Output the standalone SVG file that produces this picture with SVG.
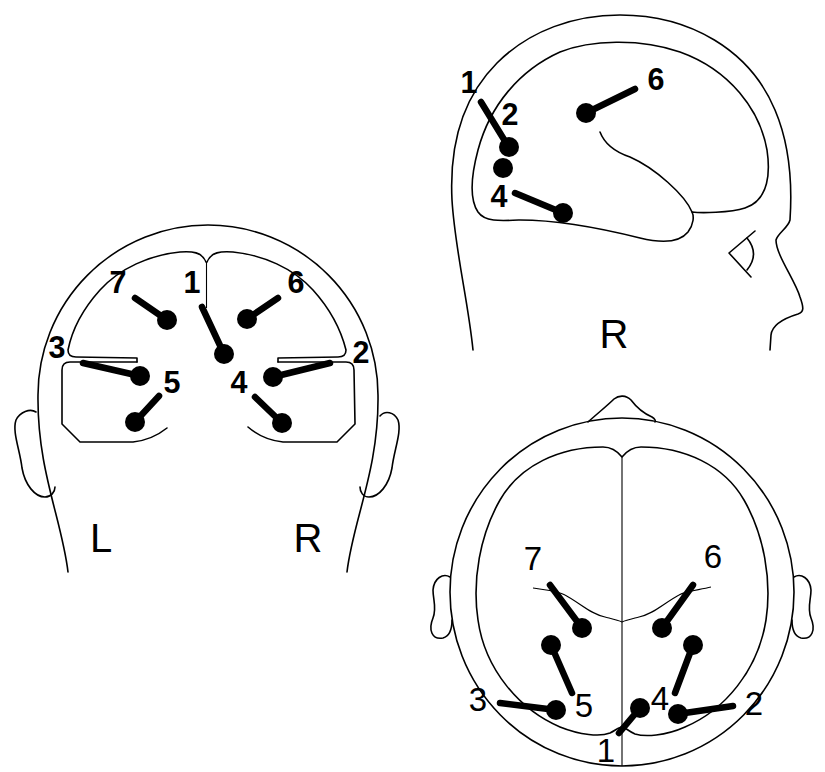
<svg xmlns="http://www.w3.org/2000/svg" width="825" height="772" viewBox="0 0 825 772">
<style>
.o{fill:none;stroke:#000;stroke-width:1.6;stroke-linejoin:round;stroke-linecap:round}
.t{fill:none;stroke:#000;stroke-width:1.1}
.s{stroke:#000;stroke-width:6.5;stroke-linecap:round}
.d{fill:#000}
.n{font-family:"Liberation Sans",Arial,sans-serif;font-size:30.5px;font-weight:bold;text-anchor:middle;fill:#000}
.m{font-family:"Liberation Sans",Arial,sans-serif;font-size:33px;text-anchor:middle;fill:#000}
.b{font-family:"Liberation Sans",Arial,sans-serif;font-size:40px;text-anchor:middle;fill:#000}
</style>
<rect width="825" height="772" fill="#fff"/>

<g id="back-view">
  <path class="o" d="M68 572 C62 520 37 470 38 395 A170 170 0 0 1 378 395 C379 470 353 520 347 572"/>
  <path class="o" d="M36 412 C30 408 20 412 16 420 C12 432 20 450 22 468 C25 485 35 497 45 497 C51 497 55 492 55 487"/>
  <path class="o" d="M380 416 C385 410 394 412 398 420 C402 432 394 450 392 468 C389 485 379 497 369 497 C363 497 360 492 360 487"/>
  <path class="o" d="M206 262 C202 252 192 251 180 252 C150 255 120 268 100 290 C82 310 72 330 68 350 Q68 357 76 357 L137 358 L137 362"/>
  <path class="o" d="M137 362 L70 362 Q62 362 62 370 L62 424 L80 442 L133 442 Q152 440 167 428"/>
  <path class="o" d="M207 262 C211 252 221 251 233 252 C263 255 293 268 313 290 C331 310 341 330 346 350 Q346 357 338 357 L278 358 L278 362"/>
  <path class="o" d="M278 362 L346 362 Q354 362 354 370 L355 424 L337 442 L283 442 Q263 440 248 427"/>
  <path class="t" d="M206.5 262 L206.5 308"/>
  <g id="back-dipoles">
    <g id="back-d7"><line class="s" x1="135" y1="298" x2="167" y2="320"/><circle class="d" cx="167" cy="320" r="10"/></g>
    <g id="back-d1"><line class="s" x1="202" y1="307" x2="224" y2="354"/><circle class="d" cx="224" cy="354" r="10"/></g>
    <g id="back-d6"><line class="s" x1="278" y1="298" x2="247" y2="319"/><circle class="d" cx="247" cy="319" r="10"/></g>
    <g id="back-d3"><line class="s" x1="83" y1="363" x2="140" y2="376"/><circle class="d" cx="140" cy="376" r="10"/></g>
    <g id="back-d5"><line class="s" x1="159" y1="396" x2="135" y2="422"/><circle class="d" cx="135" cy="422" r="10"/></g>
    <g id="back-d2"><line class="s" x1="330" y1="363" x2="273" y2="377"/><circle class="d" cx="273" cy="377" r="10"/></g>
    <g id="back-d4"><line class="s" x1="255" y1="397" x2="282" y2="423"/><circle class="d" cx="282" cy="423" r="10"/></g>
  </g>
  <g id="back-labels">
    <text class="n" x="118" y="293">7</text>
    <text class="n" x="192" y="293">1</text>
    <text class="n" x="296" y="293">6</text>
    <text class="n" x="57" y="358">3</text>
    <text class="n" x="172" y="393">5</text>
    <text class="n" x="361" y="363">2</text>
    <text class="n" x="239" y="393">4</text>
    <text class="b" x="101" y="552">L</text>
    <text class="b" x="308" y="552">R</text>
  </g>
</g>

<g id="side-view">
  <path class="o" d="M473 350 C468 300 455 250 452 200 C449 140 465 95 497 63 C530 30 575 15 620 15 C690 15 750 50 775 110 C792 150 792 190 790 220 C788 228 778 233 776 240 C776 255 795 280 800 297 C804 308 804 312 798 314 C785 318 772 325 771 335 L770 350"/>
  <path class="o" d="M692 212 C700 213 730 213 745 208 C770 200 770 170 767 150 C760 110 730 70 680 52 C640 38 590 40 560 52 C520 70 490 105 478 150 C470 180 470 200 478 212 C485 222 500 221 520 220 C560 220 600 228 640 238 C665 244 680 242 688 232 C694 224 694 216 692 212"/>
  <path class="o" d="M600 132 C605 145 615 152 630 157 C655 168 685 195 692 212"/>
  <path class="o" d="M755 231 L729 253 L751 277"/>
  <path class="o" d="M747 238 Q760 254 747 270"/>
  <g id="side-dipoles">
    <g id="side-d1"><line class="s" x1="481" y1="102" x2="508" y2="146"/><circle class="d" cx="509" cy="147" r="10"/></g>
    <g id="side-d2"><circle class="d" cx="503" cy="168" r="10"/></g>
    <g id="side-d4"><line class="s" x1="515" y1="193" x2="563" y2="213"/><circle class="d" cx="563" cy="213" r="10"/></g>
    <g id="side-d6"><line class="s" x1="635" y1="89" x2="586" y2="113"/><circle class="d" cx="586" cy="113" r="10"/></g>
  </g>
  <g id="side-labels">
    <text class="n" x="469" y="93">1</text>
    <text class="n" x="510" y="125">2</text>
    <text class="n" x="499" y="207">4</text>
    <text class="n" x="656" y="90">6</text>
    <text class="b" x="614" y="348">R</text>
  </g>
</g>

<g id="top-view">
  <path class="o" d="M588 422 C598 413 608 405 614 399 C619 395 626 395 631 400 C637 408 645 414 652 417 C655 419 656 421 655 422"/>
  <ellipse class="o" cx="622" cy="592" rx="172" ry="174"/>
  <path class="o" d="M450 577 C443 573 434 578 433 590 C433 600 437 608 433 618 C428 630 432 640 443 638 C450 636 452 628 452 620"/>
  <path class="o" d="M794 577 C801 573 810 578 811 590 C811 600 807 608 811 618 C816 630 812 640 801 638 C794 636 792 628 792 620"/>
  <path class="o" d="M622 457 C618 452 612 447 603 447 C560 447 520 465 500 500 C480 535 472 580 478 620 C485 670 520 710 560 727 C580 735 600 737 610 733 C616 730 619 727 622 727 C625 727 628 731 635 734 C645 737 665 736 685 727 C725 710 758 670 766 620 C772 580 764 535 744 500 C724 465 684 447 641 447 C632 447 626 452 622 457 Z"/>
  <path class="t" d="M622 457 L622 766"/>
  <path class="t" d="M533 588 C545 590 558 591 565 595 C580 603 590 614 605 617 C613 619 618 620 622 622 C626 620 631 619 639 617 C654 614 664 603 679 595 C686 591 699 590 711 587"/>
  <g id="top-dipoles">
    <g id="top-d7"><line class="s" x1="550" y1="585" x2="582" y2="628"/><circle class="d" cx="582" cy="628" r="10"/></g>
    <g id="top-d6"><line class="s" x1="693" y1="585" x2="662" y2="628"/><circle class="d" cx="662" cy="628" r="10"/></g>
    <g id="top-d5"><line class="s" x1="572" y1="693" x2="551" y2="645"/><circle class="d" cx="551" cy="645" r="10"/></g>
    <g id="top-d4"><line class="s" x1="675" y1="693" x2="693" y2="645"/><circle class="d" cx="693" cy="645" r="10"/></g>
    <g id="top-d3"><line class="s" x1="500" y1="703" x2="556" y2="710"/><circle class="d" cx="556" cy="710" r="10"/></g>
    <g id="top-d1"><line class="s" x1="619" y1="733" x2="640" y2="708"/><circle class="d" cx="640" cy="708" r="10"/></g>
    <g id="top-d2"><line class="s" x1="733" y1="706" x2="678" y2="714"/><circle class="d" cx="678" cy="714" r="10"/></g>
  </g>
  <g id="top-labels">
    <text class="m" x="533" y="570">7</text>
    <text class="m" x="713" y="568">6</text>
    <text class="m" x="478" y="711">3</text>
    <text class="m" x="584" y="717">5</text>
    <text class="m" x="660" y="710">4</text>
    <text class="m" x="754" y="715">2</text>
    <text class="m" x="606" y="762">1</text>
  </g>
</g>
</svg>
